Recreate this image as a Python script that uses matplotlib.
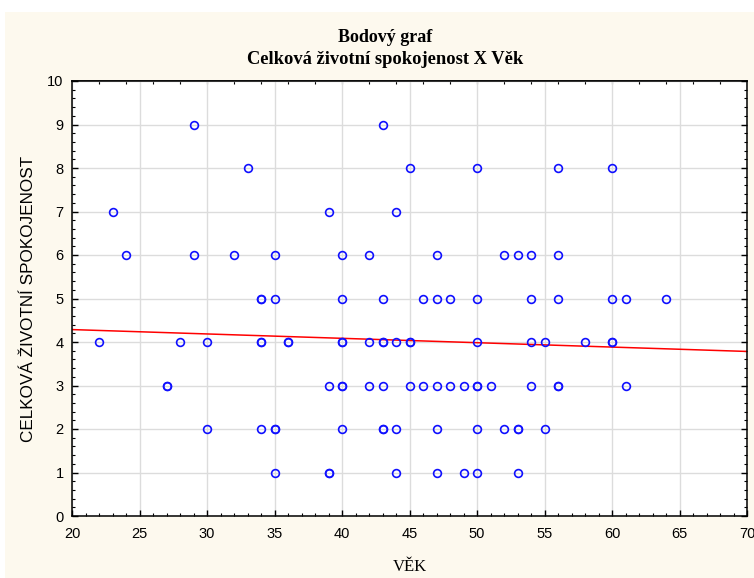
import numpy as np
import matplotlib; matplotlib.use("Agg")
import matplotlib.pyplot as plt
from matplotlib.patches import Rectangle
from matplotlib.ticker import MultipleLocator

# vek respondentu a jejich celkova zivotni spokojenost (0-10)
AGE = [29, 43,
       33, 45, 50, 56, 60,
       23, 39, 44,
       24, 29, 32, 35, 40, 42, 47, 52, 53, 54, 56,
       34, 34, 35, 40, 43, 46, 47, 48, 50, 54, 56, 60, 61, 64,
       22, 28, 30, 34, 34, 36, 36, 40, 40, 42, 43, 43, 44, 45, 45, 50, 54, 55, 58, 60, 60,
       27, 27, 39, 40, 40, 42, 43, 45, 46, 47, 48, 49, 50, 50, 51, 54, 56, 56, 61,
       30, 34, 35, 35, 40, 43, 43, 44, 47, 50, 52, 53, 53, 55,
       35, 39, 39, 44, 47, 49, 50, 53]
SCORE = [9]*2 + [8]*5 + [7]*3 + [6]*11 + [5]*14 + [4]*21 + [3]*19 + [2]*14 + [1]*8

XMIN, XMAX = 20, 70
YMIN, YMAX = 0, 10

fig = plt.figure(figsize=(7.54, 5.78), dpi=100, facecolor="white")
fig.patches.append(Rectangle((5/754, 0), 1 - 5/754, 1 - 12/578,
                             transform=fig.transFigure, facecolor="#fdf9ee",
                             edgecolor="none", zorder=-10))

ax = fig.add_axes([72/754, 1 - 516/578, (747-72)/754, (516-81)/578])
ax.set_facecolor("white")

ax.plot(AGE, SCORE, "o", mfc="none", mec="#1010ff", ms=5.6, mew=1.2,
        zorder=3, clip_on=False)

# linearni regrese
b, a = np.polyfit(AGE, SCORE, 1)
xx = np.array([XMIN, XMAX])
ax.plot(xx, a + b*xx, color="#ff0000", lw=1.1, zorder=2)

ax.set_xlim(XMIN, XMAX); ax.set_ylim(YMIN, YMAX)
ax.xaxis.set_major_locator(MultipleLocator(5))
ax.xaxis.set_minor_locator(MultipleLocator(1))
ax.yaxis.set_major_locator(MultipleLocator(1))
ax.yaxis.set_minor_locator(MultipleLocator(0.2))
ax.yaxis.set_ticks_position("both")
ax.grid(True, which="major", color="#dcdcdc", lw=1, zorder=0)
ax.set_axisbelow(True)
for s in ax.spines.values():
    s.set_linewidth(1.1); s.set_color("black")

ax.tick_params(which="major", direction="in", length=4, width=1, labelsize=10.5, pad=6)
ax.tick_params(which="minor", direction="in", length=2.2, width=0.8)
ax.tick_params(axis="x", which="major", bottom=True, top=False, pad=8)
ax.tick_params(axis="x", which="minor", bottom=True, top=False)
for lab in ax.get_xticklabels() + ax.get_yticklabels():
    lab.set_family("Liberation Sans")

top = ax.secondary_xaxis("top")
top.set_xticks(np.arange(22, 70, 2))
top.tick_params(direction="in", length=2.2, width=0.8, labeltop=False)
top.spines["top"].set_linewidth(1.1)

ax.set_ylabel("CELKOVÁ ŽIVOTNÍ SPOKOJENOST", family="Liberation Sans",
              fontsize=12.3, labelpad=8)
ax.set_xlabel("VĚK", family="Liberation Serif", fontsize=12, labelpad=13)

fig.text(385/754, 1 - 38/578, "Bodový graf", ha="center", va="center",
         family="Liberation Serif", fontweight="bold", fontsize=13)
fig.text(385/754, 1 - 60/578, "Celková životní spokojenost X Věk", ha="center",
         va="center", family="Liberation Serif", fontweight="bold", fontsize=13.3)

fig.savefig("out.png", dpi=100, facecolor=fig.get_facecolor())
